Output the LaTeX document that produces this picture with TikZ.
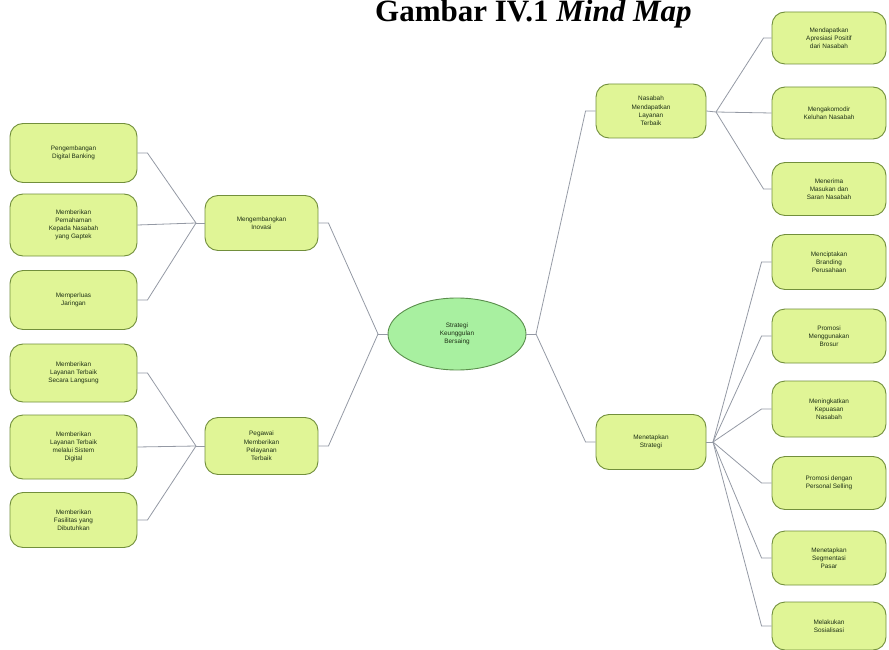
\documentclass[tikz,border=0pt]{standalone}
\usepackage{fontspec}
\setmainfont{Liberation Sans}
\newfontfamily\titlefont{Liberation Serif}
\definecolor{leaffill}{HTML}{E0F596}
\definecolor{leafborder}{HTML}{728F3C}
\definecolor{centerfill}{HTML}{A8F0A0}
\definecolor{centerborder}{HTML}{5A8E4C}
\definecolor{linkcol}{HTML}{9499A4}
\definecolor{txt}{HTML}{1E3016}
\tikzset{
  leaf/.style={draw=leafborder, fill=leaffill, rounded corners=13pt, align=center,
    font=\fontsize{6.4}{8.2}\selectfont, text=txt, line width=0.9pt, inner sep=2pt},
  hub/.style={leaf},
  root/.style={ellipse, draw=centerborder, fill=centerfill, align=center,
    font=\fontsize{6.4}{8.2}\selectfont, text=txt, line width=0.9pt,
    minimum width=138pt, minimum height=72pt, inner sep=0pt},
  link/.style={draw=linkcol, line width=0.8pt}
}
\usetikzlibrary{shapes.geometric}
\begin{document}
\begin{tikzpicture}[x=1pt,y=-1pt]
\useasboundingbox (0,0) rectangle (889,650);
% title
\node[anchor=base west, inner sep=0pt, font=\titlefont\fontsize{31}{33}\selectfont\bfseries] (title) at (375,22) {Gambar IV.1 \textit{Mind Map}};
% left leaves
\node[leaf, minimum width=127pt, minimum height=59pt] (L1) at (73.5,153) {Pengembangan\\Digital Banking};
\node[leaf, minimum width=127pt, minimum height=62pt] (L2) at (73.5,225) {Memberikan\\Pemahaman\\Kepada Nasabah\\yang Gaptek};
\node[leaf, minimum width=127pt, minimum height=59pt] (L3) at (73.5,300) {Memperluas\\Jaringan};
\node[leaf, minimum width=127pt, minimum height=58pt] (L4) at (73.5,373) {Memberikan\\Layanan Terbaik\\Secara Langsung};
\node[leaf, minimum width=127pt, minimum height=64pt] (L5) at (73.5,447) {Memberikan\\Layanan Terbaik\\melalui Sistem\\Digital};
\node[leaf, minimum width=127pt, minimum height=55pt] (L6) at (73.5,520) {Memberikan\\Fasilitas yang\\Dibutuhkan};
% left hubs
\node[hub, minimum width=113pt, minimum height=55pt] (M1) at (261.5,223) {Mengembangkan\\Inovasi};
\node[hub, minimum width=113pt, minimum height=57pt] (M2) at (261.5,446) {Pegawai\\Memberikan\\Pelayanan\\Terbaik};
% center
\node[root] (C) at (457,334) {Strategi\\Keunggulan\\Bersaing};
% right hubs
\node[hub, minimum width=110pt, minimum height=54pt] (N1) at (651,111) {Nasabah\\Mendapatkan\\Layanan\\Terbaik};
\node[hub, minimum width=110pt, minimum height=55pt] (N2) at (651,442) {Menetapkan\\Strategi};
% right leaves
\node[leaf, minimum width=114pt, minimum height=52pt] (R1) at (829,38) {Mendapatkan\\Apresiasi Positif\\dari Nasabah};
\node[leaf, minimum width=114pt, minimum height=52pt] (R2) at (829,113) {Mengakomodir\\Keluhan Nasabah};
\node[leaf, minimum width=114pt, minimum height=53pt] (R3) at (829,189) {Menerima\\Masukan dan\\Saran Nasabah};
\node[leaf, minimum width=114pt, minimum height=55pt] (R4) at (829,262) {Menciptakan\\Branding\\Perusahaan};
\node[leaf, minimum width=114pt, minimum height=54pt] (R5) at (829,336) {Promosi\\Menggunakan\\Brosur};
\node[leaf, minimum width=114pt, minimum height=56pt] (R6) at (829,409) {Meningkatkan\\Kepuasan\\Nasabah};
\node[leaf, minimum width=114pt, minimum height=53pt] (R7) at (829,483) {Promosi dengan\\Personal Selling};
\node[leaf, minimum width=114pt, minimum height=54pt] (R8) at (829,558) {Menetapkan\\Segmentasi\\Pasar};
\node[leaf, minimum width=114pt, minimum height=48pt] (R9) at (829,626) {Melakukan\\Sosialisasi};
% junctions
\coordinate (J1) at (196,223);
\coordinate (J2) at (196,446);
\coordinate (JC1) at (378,334);
\coordinate (JC2) at (536,334);
\coordinate (JR1) at (716,112);
\coordinate (JR2) at (713,442);
% left links
\draw[link] (L1.east) -- ++(10,0) -- (J1);
\draw[link] (L2.east) -- (J1);
\draw[link] (L3.east) -- ++(10,0) -- (J1);
\draw[link] (J1) -- (M1.west);
\draw[link] (L4.east) -- ++(10,0) -- (J2);
\draw[link] (L5.east) -- (J2);
\draw[link] (L6.east) -- ++(10,0) -- (J2);
\draw[link] (J2) -- (M2.west);
% center links
\draw[link] (M1.east) -- ++(10,0) -- (JC1);
\draw[link] (M2.east) -- ++(10,0) -- (JC1);
\draw[link] (JC1) -- (C.west);
\draw[link] (C.east) -- (JC2);
\draw[link] (JC2) -- ([xshift=-10pt]N1.west) -- (N1.west);
\draw[link] (JC2) -- ([xshift=-10pt]N2.west) -- (N2.west);
% right links
\draw[link] (N1.east) -- (JR1);
\draw[link] (JR1) -- ([xshift=-8pt]R1.west) -- (R1.west);
\draw[link] (JR1) -- (R2.west);
\draw[link] (JR1) -- ([xshift=-8pt]R3.west) -- (R3.west);
\draw[link] (N2.east) -- (JR2);
\foreach \r in {R4,R5,R6,R7,R8,R9}{
  \draw[link] (JR2) -- ([xshift=-10pt]\r.west) -- (\r.west);
}
\end{tikzpicture}
\end{document}
